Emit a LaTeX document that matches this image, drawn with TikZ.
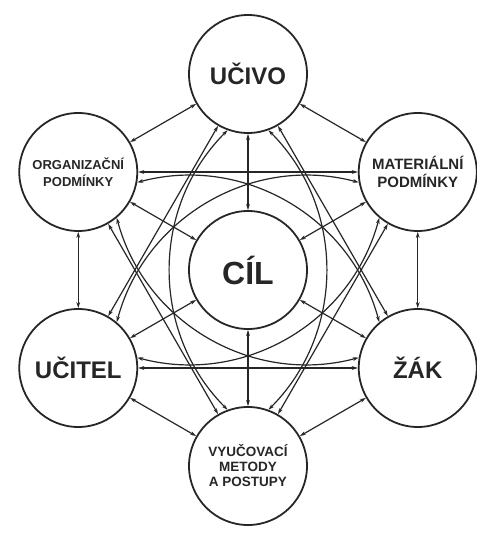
\documentclass[tikz,border=0pt]{standalone}
\usepackage{fontspec}
\setmainfont{Liberation Sans}
\usetikzlibrary{arrows.meta, positioning, calc}

\begin{document}
\begin{tikzpicture}[
		x=1pt, y=1pt,
		every node/.style={font=\bfseries, text=black!85},
		cat/.style={draw=black!85, circle, line width=1.8pt, minimum size=118pt, inner sep=0pt, align=center},
		link/.style={<->, draw=black!85, line width=1.2pt, >={Stealth[length=6pt, width=3.8pt]}}
		]
		\useasboundingbox (-248,-264) rectangle (228,270);
		
		% Centre: goal
		\node[cat, font=\bfseries\fontsize{32}{34}\selectfont] (cil) at (0,0) {CÍL};
		
		% Outer ring
		\node[cat, font=\bfseries\fontsize{24}{26}\selectfont] (ucivo) at (90:196) {UČIVO};
		\node[cat, font=\bfseries\fontsize{15}{18}\selectfont] (mat) at (30:196) {MATERIÁLNÍ\\PODMÍNKY};
		\node[cat, font=\bfseries\fontsize{24}{26}\selectfont] (zak) at (-30:196) {ŽÁK};
		\node[cat, font=\bfseries\fontsize{13.5}{15}\selectfont] (vyu) at (-90:196) {VYUČOVACÍ\\METODY\\A POSTUPY};
		\node[cat, font=\bfseries\fontsize{24}{26}\selectfont] (ucitel) at (210:196) {UČITEL};
		\node[cat, font=\bfseries\fontsize{13}{17}\selectfont] (org) at (150:196) {ORGANIZAČNÍ\\PODMÍNKY};
		
		% Sides of the ring
		\draw[link] (ucivo) -- (org);
		\draw[link] (ucivo) -- (mat);
		\draw[link] (mat) -- (zak);
		\draw[link] (zak) -- (vyu);
		\draw[link] (vyu) -- (ucitel);
		\draw[link] (ucitel) -- (org);
		
		% Spokes to the goal
		\draw[link] (ucivo) -- (cil);
		\draw[link] (mat) -- (cil);
		\draw[link] (zak) -- (cil);
		\draw[link] (vyu) -- (cil);
		\draw[link] (ucitel) -- (cil);
		\draw[link] (org) -- (cil);
		
		% Chords
		\draw[link] (org) -- (mat);
		\draw[link] (ucitel) -- (zak);
		\draw[link] (ucivo) -- (ucitel);
		\draw[link] (ucivo) -- (zak);
		\draw[link] (org) -- (vyu);
		\draw[link] (mat) -- (vyu);
		
		% Arcs round the goal
		\draw[link] (ucivo.250) to[out=225, in=135] (vyu.110);
		\draw[link] (ucivo.290) to[out=-45, in=45] (vyu.70);
		\draw[link] (org.310) to[out=285, in=195] (zak.170);
		\draw[link] (org.-10) to[out=15, in=105] (zak.130);
		\draw[link] (mat.190) to[out=165, in=75] (ucitel.50);
		\draw[link] (mat.230) to[out=255, in=345] (ucitel.10);
		
	\end{tikzpicture}
\end{document}
